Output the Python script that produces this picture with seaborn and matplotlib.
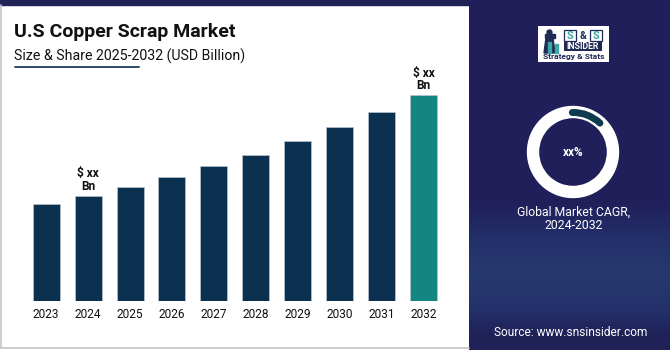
import numpy as np
import pandas as pd
import matplotlib
matplotlib.use("Agg")
import matplotlib.pyplot as plt
import seaborn as sns
from matplotlib.patches import Rectangle, Wedge, Arc, Circle, Polygon
from matplotlib.colors import to_rgb

# ---- data ----
years = ["2023", "2024", "2025", "2026", "2027", "2028", "2029", "2030", "2031", "2032"]
values = [96.7, 105, 114, 124, 134.7, 146.3, 159.7, 173.7, 188.7, 206]
bar_colors = ["#0c3150"] * 9 + ["#138682"]
label_years = ["2024", "2032"]
label_text = "$ xx\nBn"
title = "U.S Copper Scrap Market"
subtitle = "Size & Share 2025-2032 (USD Billion)"
cagr_text = "xx%"
cagr_label = "Global Market CAGR,\n2024-2032"
source = "Source: www.snsinsider.com"

W, H = 670, 350
sns.set_theme(style="white")
plt.rcParams["font.family"] = ["Roboto", "DejaVu Sans"]

fig = plt.figure(figsize=(W / 100, H / 100), dpi=100)
fig.patch.set_facecolor("white")

# background layer in pixel coordinates (y downwards)
bg = fig.add_axes([0, 0, 1, 1])
bg.set_xlim(0, W)
bg.set_ylim(H, 0)
bg.axis("off")

# right panel gradient
grad_y = np.array([0, 200, 240, 275, 310, 335, 350])
grad_c = ["#201f5a", "#201f5a", "#23306a", "#26396f", "#23306a", "#1f2157", "#1f2157"]
rows = np.arange(H)
rgb = np.array([to_rgb(c) for c in grad_c])
img = np.stack([np.interp(rows, grad_y, rgb[:, k]) for k in range(3)], axis=-1)
img = np.repeat(img[:, None, :], 2, axis=1)
bg.imshow(img, extent=(469, W, H, 0), aspect="auto", zorder=0)

# top band
bg.add_patch(Rectangle((0, 0), 469, 4.5, color="#1f2257", zorder=1))
# border of white panel
bg.plot([1, 1], [4.5, 348], color="#c4c4c4", lw=1.2, zorder=1)
bg.plot([1, 469], [348, 348], color="#c4c4c4", lw=1.2, zorder=1)

# title
bg.text(14, 32, title, fontsize=14, fontweight="bold", color="#111111", va="center", ha="left")
bg.text(14, 56, subtitle, fontsize=10.2, color="#111111", va="center", ha="left")
bg.plot([15, 139], [67, 67], color="#1f3a5a", lw=1.3)

# logo
navy = "#1f2a55"
teal = "#3aa7a0"
bg.add_patch(Rectangle((538, 26), 71, 36, facecolor="white", edgecolor="none", zorder=2))
# tower icon
bg.add_patch(Polygon([[544, 53], [546, 38], [553, 38], [555, 53]], closed=True, color=navy, zorder=3))
bg.add_patch(Rectangle((544.5, 34), 10, 4, color=navy, zorder=3))
bg.add_patch(Circle((549.5, 32.5), 2.5, color=navy, zorder=3))
bg.add_patch(Rectangle((548, 42), 3, 11, color=teal, zorder=3))
bg.add_patch(Rectangle((555, 44), 3, 9, color=teal, zorder=3))
# S & S
for x0 in (564, 590):
    bg.add_patch(Rectangle((x0, 30), 11.5, 11, facecolor="white", edgecolor=navy, lw=0.9, zorder=3))
    bg.text(x0 + 5.75, 35.8, "S", fontsize=8, fontweight="bold", color=teal, ha="center", va="center", zorder=4)
bg.text(582.7, 35.8, "&", fontsize=7.5, fontweight="bold", color=navy, ha="center", va="center", zorder=4)
bg.add_patch(Rectangle((564, 42.3), 37.5, 8.4, facecolor=navy, edgecolor="none", zorder=3))
bg.text(582.7, 46.6, "INSIDER", fontsize=6.3, fontweight="bold", color="white", ha="center", va="center", zorder=4)
bg.text(574, 56.8, "Strategy & Stats", fontsize=6, fontweight="bold", color=navy, ha="center", va="center", zorder=4)

# donut
cx, cy = 573, 152
bg.add_patch(Wedge((cx, cy), 45.5, 0, 360, width=11, color="white", zorder=3))
arc = Arc((cx, cy), 79, 79, angle=0, theta1=-91, theta2=-47, color="#0d3a4f", lw=5, zorder=4)
arc.set_capstyle("round")
bg.add_patch(arc)
bg.text(cx, cy, cagr_text, fontsize=8.5, fontweight="bold", color="white", ha="center", va="center", zorder=4)
bg.text(574, 219, cagr_label, fontsize=8.8, color="white", ha="center", va="center", linespacing=1.05)
bg.text(571, 333, source, fontsize=8.6, color="white", ha="center", va="center")

# bar chart axes
left = 25.2 / W
right = 444.5 / W
base = 301
top = 60
ax = fig.add_axes([left, (H - base) / H, right - left, (base - top) / H])
ax.patch.set_alpha(0)
df = pd.DataFrame({"year": years, "value": values})
sns.barplot(data=df, x="year", y="value", hue="year", palette=bar_colors, legend=False,
            width=0.645, ax=ax, edgecolor="#b8c4d0", linewidth=0.5, saturation=1)
ax.set_xlim(-0.5, 9.5)
ax.set_ylim(0, base - top)
ax.set_xlabel("")
ax.set_ylabel("")
ax.set_yticks([])
for sp in ax.spines.values():
    sp.set_visible(False)
ax.tick_params(axis="x", length=0, pad=5, labelsize=8.6, labelcolor="#111111")

for y in label_years:
    i = years.index(y)
    ax.text(i, values[i] + 3, label_text, ha="center", va="bottom", fontsize=8.6,
            fontweight="bold", color="#111111", linespacing=0.95)

fig.savefig("out.png", dpi=100, facecolor="white")
